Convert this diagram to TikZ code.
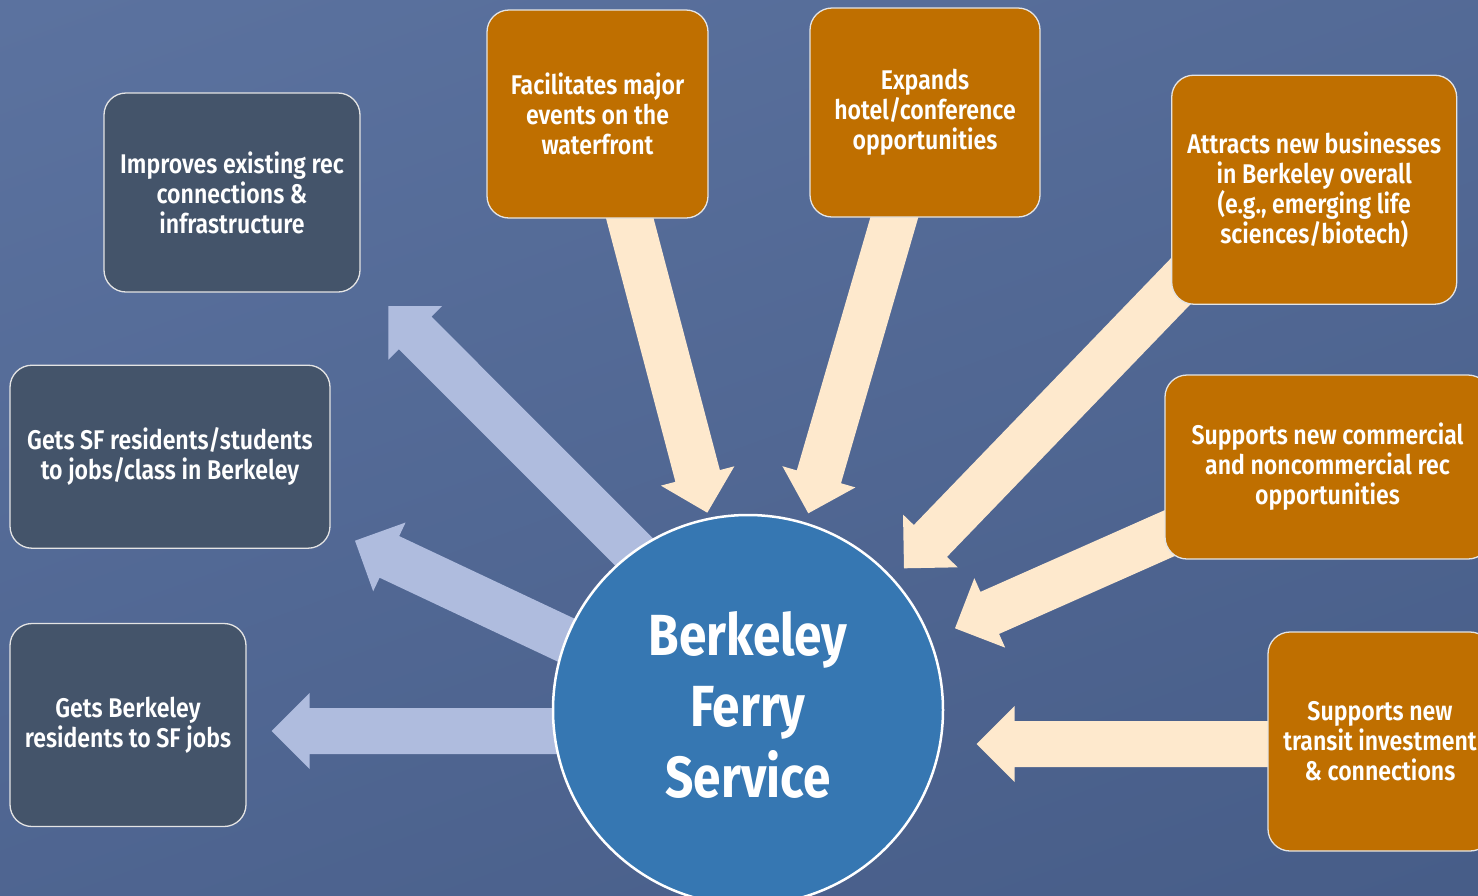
\documentclass[tikz,border=0pt]{standalone}
\usepackage{fontspec}
\setmainfont{Fira Sans}[FakeStretch=0.855, UprightFont=* SemiBold, BoldFont=* Bold]
\usetikzlibrary{calc}
\definecolor{bgtop}{RGB}{92,115,160}
\definecolor{bgbot}{RGB}{70,92,135}
\definecolor{slate}{RGB}{68,84,106}
\definecolor{ochre}{RGB}{191,111,0}
\definecolor{hubblue}{RGB}{54,119,178}
\definecolor{lav}{RGB}{175,188,222}
\definecolor{cream}{RGB}{254,233,205}
\definecolor{edgegray}{RGB}{228,228,228}
\newcommand\blockarrow[3]{%
  \fill[#3] ($(#1)!23pt!90:(#2)$)
    -- ($(#2)!38pt!(#1)!23pt!-90:(#1)$)
    -- ($(#2)!38pt!(#1)!38pt!-90:(#1)$)
    -- (#2)
    -- ($(#2)!38pt!(#1)!38pt!90:(#1)$)
    -- ($(#2)!38pt!(#1)!23pt!90:(#1)$)
    -- ($(#1)!23pt!-90:(#2)$) -- cycle;}
\tikzset{
  basebox/.style={draw=edgegray, line width=1.3pt, rounded corners=22pt,
    text=white, align=center, inner sep=0pt,
    font=\fontsize{27}{30}\selectfont},
  slatebox/.style={basebox, fill=slate},
  ochrebox/.style={basebox, fill=ochre},
  hubnode/.style={circle, draw=white, line width=2.5pt, fill=hubblue,
    minimum size=390pt, inner sep=0pt, text=white, align=center,
    text depth=12pt,
    font=\bfseries\fontsize{58}{71}\selectfont},
}
\begin{document}
\begin{tikzpicture}[x=1pt,y=-1pt]
\useasboundingbox (0,0) rectangle (1478,895);
\clip (0,0) rectangle (1478,895);
\shade[top color=bgtop, bottom color=bgbot, shading angle=20] (-200,-200) rectangle (1678,1095);

% arrow end points
\coordinate (a1s) at (688,606);   \coordinate (a1t) at (388.3,306);
\coordinate (a2s) at (672,690);   \coordinate (a2t) at (355,540.7);
\coordinate (a3s) at (650,731);   \coordinate (a3t) at (271.7,731);
\coordinate (b4s) at (623.2,193.3); \coordinate (b4t) at (707.3,512.7);
\coordinate (b5s) at (900.4,196.5); \coordinate (b5t) at (808.3,513.3);
\coordinate (b6s) at (1195.5,265.9); \coordinate (b6t) at (904,568.3);
\coordinate (b7s) at (1229,506.8); \coordinate (b7t) at (955,628.3);
\coordinate (b8s) at (1320,744);  \coordinate (b8t) at (976.7,744);

\blockarrow{a1s}{a1t}{lav}
\blockarrow{a2s}{a2t}{lav}
\blockarrow{a3s}{a3t}{lav}
\blockarrow{b4s}{b4t}{cream}
\blockarrow{b5s}{b5t}{cream}
\blockarrow{b6s}{b6t}{cream}
\blockarrow{b7s}{b7t}{cream}
\blockarrow{b8s}{b8t}{cream}

% outcome boxes
\node[slatebox, minimum width=256pt, minimum height=199pt] (rec) at (232,192.5)
  {Improves existing rec\\connections \&\\infrastructure};
\node[slatebox, minimum width=320pt, minimum height=183pt] (sf) at (170,456.7)
  {Gets SF residents/students\\to jobs/class in Berkeley};
\node[slatebox, minimum width=236pt, minimum height=203pt] (bk) at (128,725)
  {Gets Berkeley\\residents to SF jobs};

% driver boxes
\node[ochrebox, minimum width=221pt, minimum height=208pt] (events) at (597.5,114)
  {Facilitates major\\events on the\\waterfront};
\node[ochrebox, minimum width=230pt, minimum height=209pt] (hotel) at (925,112.5)
  {Expands\\hotel/conference\\opportunities};
\node[ochrebox, minimum width=285pt, minimum height=229pt] (biz) at (1314.2,189.7)
  {Attracts new businesses\\in Berkeley overall\\(e.g., emerging life\\sciences/biotech)};
\node[ochrebox, minimum width=325pt, minimum height=184pt] (comm) at (1327.5,467)
  {Supports new commercial\\and noncommercial rec\\opportunities};
\node[ochrebox, minimum width=224pt, minimum height=219pt] (transit) at (1380,741.5)
  {Supports new\\transit investment\\\& connections};

% hub
\node[hubnode] (hub) at (748,710) {Berkeley\\Ferry\\Service};
\end{tikzpicture}
\end{document}
